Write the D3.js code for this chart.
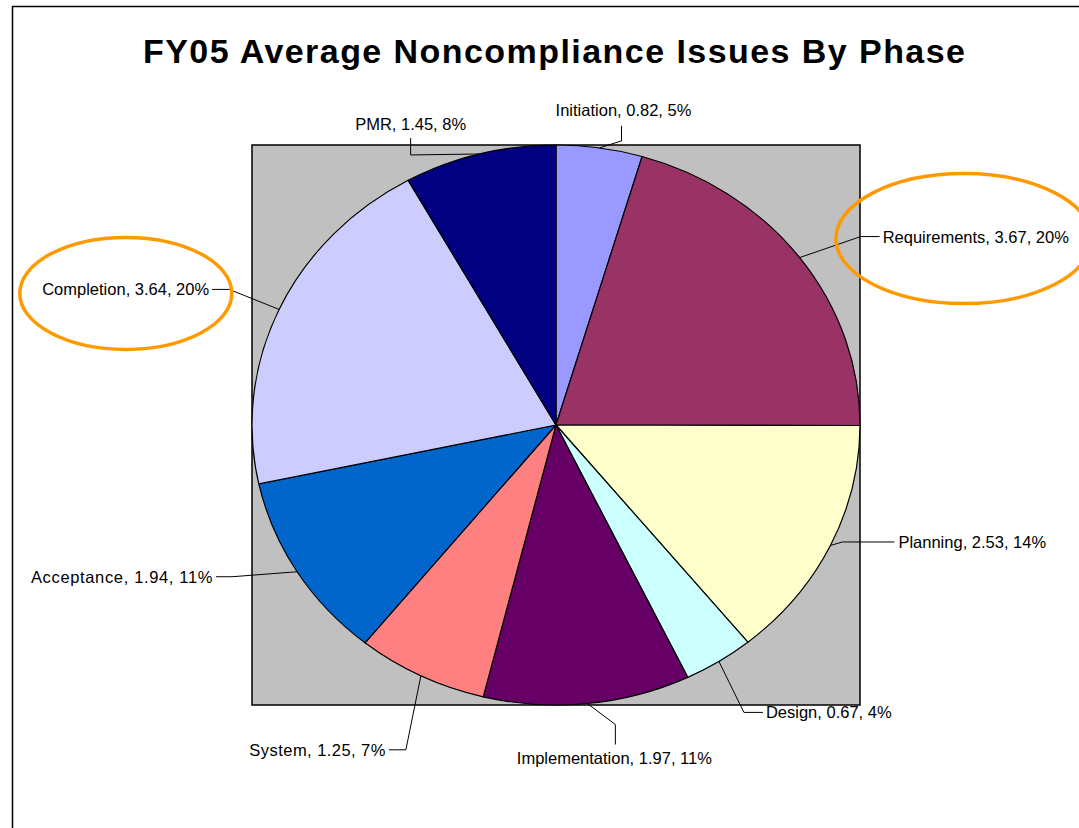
<!DOCTYPE html>
<html>
<head>
<meta charset="utf-8">
<script src="https://cdn.jsdelivr.net/npm/d3@7"></script>
<style>
  html, body { margin: 0; padding: 0; background: #fff; }
  svg { display: block; font-family: "Liberation Sans", Arial, sans-serif; }
</style>
</head>
<body>
<svg width="1079" height="828"></svg>
<script>
// FY05 noncompliance issues, clockwise from 12 o'clock
var phases = ["Initiation", "Requirements", "Planning", "Design", "Implementation",
              "System", "Acceptance", "Completion", "PMR"];
var averages = [0.82, 3.67, 2.53, 0.67, 1.97, 1.25, 1.94, 3.64, 1.45];
var percentLabels = ["5%", "20%", "14%", "4%", "11%", "7%", "11%", "20%", "8%"];
var sliceColors = ["#9999FF", "#993366", "#FFFFCC", "#CCFFFF", "#660066",
                   "#FF8080", "#0066CC", "#CCCCFF", "#000080"];
var circled = ["Requirements", "Completion"];

var data = phases.map(function (p, i) {
    return { name: p, value: averages[i], pct: percentLabels[i], color: sliceColors[i] };
});

var svg = d3.select("svg");

// outer chart frame
svg.append("rect")
    .attr("x", 12.5).attr("y", 6.5)
    .attr("width", 1100).attr("height", 900)
    .attr("fill", "#fff")
    .attr("stroke", "#000")
    .attr("stroke-width", 1.5);

svg.append("text")
    .attr("x", 143).attr("y", 63)
    .attr("textLength", 822)
    .attr("lengthAdjust", "spacing")
    .style("font-size", "34px")
    .style("font-weight", "bold")
    .text("FY05 Average Noncompliance Issues By Phase");

// plot area
var plot = { x: 252, y: 145, w: 608, h: 560 };
svg.append("rect")
    .attr("x", plot.x).attr("y", plot.y)
    .attr("width", plot.w).attr("height", plot.h)
    .attr("fill", "#C0C0C0")
    .attr("stroke", "#000")
    .attr("stroke-width", 1.5);

var cx = plot.x + plot.w / 2, cy = plot.y + plot.h / 2;
var ry = plot.h / 2, rx = plot.w / 2;

var pie = d3.pie().sort(null).value(function (d) { return d.value; });
var arcs = pie(data);

var arc = d3.arc().innerRadius(0).outerRadius(ry);
var edge = d3.arc().innerRadius(ry).outerRadius(ry);

var g = svg.append("g")
    .attr("transform", "translate(" + cx + "," + cy + ") scale(" + (rx / ry) + ",1)");

g.selectAll("path")
    .data(arcs)
    .enter()
    .append("path")
    .attr("d", arc)
    .attr("fill", function (d) { return d.data.color; })
    .attr("stroke", "#000")
    .attr("stroke-width", 1.2)
    .attr("vector-effect", "non-scaling-stroke");

// label placement relative to the slice's edge point: elbow, line end, text
var labelLayout = {
    "Initiation":     { e1: [22, -7],   e2: [22, -22],  t: [24, -38],  anchor: "middle" },
    "Requirements":   { e1: [61, -21],  e2: [80, -21],  t: [83, -21],  anchor: "start" },
    "Planning":       { e1: [12, -3.5], e2: [64, -3.5], t: [68, -3.5], anchor: "start" },
    "Design":         { e1: [25, 51],   e2: [44, 51],   t: [47, 51],   anchor: "start" },
    "Implementation": { e1: [28, 21],   e2: [28, 41],   t: [27, 54],   anchor: "middle" },
    "System":         { e1: [-15, 74],  e2: [-32, 74],  t: [-35, 74],  anchor: "end", ls: 0.45 },
    "Acceptance":     { e1: [-65, 5],   e2: [-81, 5],   t: [-84, 5],   anchor: "end", ls: 0.65 },
    "Completion":     { e1: [-50, -20], e2: [-67, -20], t: [-70, -20], anchor: "end" },
    "PMR":            { e1: [-69, 1],   e2: [-69, -16], t: [-69, -30], anchor: "middle" }
};

var labels = svg.append("g");

arcs.forEach(function (d) {
    var c = edge.centroid(d);
    var px = cx + c[0] * rx / ry, py = cy + c[1];
    var L = labelLayout[d.data.name];
    labels.append("path")
        .attr("d", d3.line()([[px, py], [px + L.e1[0], py + L.e1[1]], [px + L.e2[0], py + L.e2[1]]]))
        .attr("fill", "none")
        .attr("stroke", "#000")
        .attr("stroke-width", 1);
    var t = labels.append("text")
        .attr("x", px + L.t[0])
        .attr("y", py + L.t[1])
        .attr("text-anchor", L.anchor)
        .attr("dominant-baseline", "central")
        .style("font-size", "16.5px")
        .style("letter-spacing", (L.ls || 0) + "px")
        .attr("fill", "#000")
        .text(d.data.name + ", " + d.data.value.toFixed(2) + ", " + d.data.pct);

    if (circled.indexOf(d.data.name) >= 0) {
        var b = t.node().getBBox();
        var isRight = L.anchor === "start";
        labels.append("ellipse")
            .attr("cx", b.x + b.width / 2 + (isRight ? -12 : 0))
            .attr("cy", b.y + b.height / 2 + (isRight ? 2 : 4))
            .attr("rx", isRight ? 128 : 106)
            .attr("ry", isRight ? 65 : 56)
            .attr("fill", "none")
            .attr("stroke", "#FF9900")
            .attr("stroke-width", 3.5);
    }
});
</script>
</body>
</html>
